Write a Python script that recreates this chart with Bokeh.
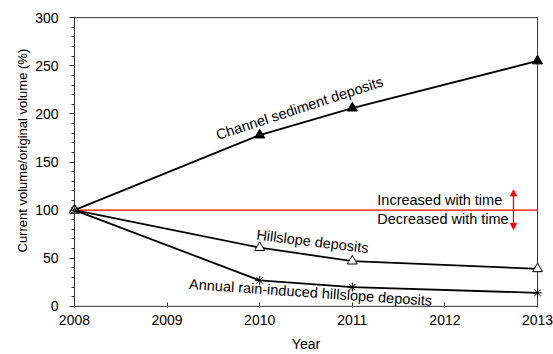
from bokeh.plotting import figure
from bokeh.models import (Label, Arrow, NormalHead, SingleIntervalTicker, FixedTicker, Range1d,
                          LinearAxis, Title)
from bokeh.embed import file_html
from bokeh.resources import INLINE
import math

years_channel = [2008, 2010, 2011, 2013]
channel = [100, 178, 206, 255]
years_hill = [2008, 2010, 2011, 2013]
hillslope = [100, 61, 47, 39]
years_annual = [2008, 2010, 2011, 2013]
annual = [100, 27, 20, 14]
ref_x = [2008, 2013]
ref_y = [100, 100]
x_ticks = [2008, 2009, 2010, 2011, 2012, 2013]
x_min, x_max = 2008, 2013
y_min, y_max = 0, 300

FONT = "Liberation Sans"
PAD = 0.075
PY = 1.2
AX = "#333333"

p = figure(width=553, height=354, output_backend="svg", toolbar_location=None,
           x_range=Range1d(x_min - PAD, x_max + PAD), y_range=Range1d(y_min - PY, y_max + PY),
           min_border_left=67, min_border_right=9, min_border_top=16, min_border_bottom=47)
p.grid.visible = False
p.outline_line_color = None
p.background_fill_color = "white"
p.border_fill_color = "white"

# x axis (labels + inward ticks)
p.xaxis.ticker = FixedTicker(ticks=x_ticks)
p.xaxis.major_tick_in = 5
p.xaxis.major_tick_out = 0
p.xaxis.major_tick_line_color = AX
p.xaxis.minor_tick_line_color = None
p.xaxis.axis_line_color = None

# y axis at frame edge: labels only
p.yaxis.ticker = SingleIntervalTicker(interval=50)
p.yaxis.major_tick_line_color = None
p.yaxis.minor_tick_line_color = None
p.yaxis.axis_line_color = None
p.yaxis.major_tick_in = 0
p.yaxis.major_tick_out = 0

for ax in (p.xaxis, p.yaxis):
    ax.major_label_text_font = FONT
    ax.major_label_text_font_size = "14px"
    ax.major_label_text_color = "black"
    ax.axis_label_text_font = FONT
    ax.axis_label_text_font_size = "14px"
    ax.axis_label_text_font_style = "normal"
    ax.axis_label_text_color = "black"
p.xaxis.axis_label = "Year"
p.xaxis.major_label_standoff = 7
p.yaxis.major_label_standoff = 5
p.xaxis.axis_label_standoff = 8

# y axis title in the left panel, shifted upwards as in the reference
p.add_layout(Title(text="Current volume/original volume (%)", align="left", offset=55,
                   text_font=FONT, text_font_size="13px", text_font_style="normal",
                   text_color="black", standoff=6), "left")

# y axis line and ticks exactly at 2008 (ticks pointing left)
yticks_axis = LinearAxis(fixed_location=x_min,
                         ticker=SingleIntervalTicker(interval=50, num_minor_ticks=5),
                         major_tick_in=5, major_tick_out=0,
                         minor_tick_in=3, minor_tick_out=0,
                         major_tick_line_color=AX, minor_tick_line_color=AX,
                         axis_line_color=AX,
                         major_label_text_font_size="0px", major_label_standoff=0,
                         major_label_text_color=None)
p.add_layout(yticks_axis, "right")

# frame (bottom, top, right)
p.line([x_min, x_max], [y_min, y_min], line_color=AX, line_width=1)
p.line([x_min, x_max], [y_max, y_max], line_color=AX, line_width=1)
p.line([x_max, x_max], [y_min, y_max], line_color=AX, line_width=1)

# reference line
p.line(ref_x, ref_y, line_color="red", line_width=1.2)

# series
p.line(years_channel, channel, line_color="black", line_width=1.8)
p.scatter(years_channel, channel, marker="triangle", size=10, fill_color="black", line_color="black")
p.line(years_hill, hillslope, line_color="black", line_width=1.8)
p.scatter(years_hill, hillslope, marker="triangle", size=10, fill_color="white", line_color="black")
p.line(years_annual, annual, line_color="black", line_width=1.8)
p.scatter(years_annual, annual, marker="asterisk", size=9, line_color="black")

def lab(x, y, t, ang=0, align="center"):
    p.add_layout(Label(x=x, y=y, text=t, angle=math.radians(ang), text_align=align,
                       text_baseline="middle", text_font=FONT, text_font_size="14.5px",
                       text_color="black"))

lab(2010.43, 206, "Channel sediment deposits", 18)
lab(2010.57, 67.5, "Hillslope deposits", -7)
lab(2010.55, 14.5, "Annual rain-induced hillslope deposits", -4)
lab(2011.27, 110, "Increased with time", 0, "left")
lab(2011.27, 90.5, "Decreased with time", 0, "left")

p.add_layout(Arrow(x_start=2012.74, y_start=100, x_end=2012.74, y_end=121,
                   line_color="red", line_width=1.3,
                   end=NormalHead(size=6, fill_color="red", line_color="red")))
p.add_layout(Arrow(x_start=2012.74, y_start=100, x_end=2012.74, y_end=80,
                   line_color="red", line_width=1.3,
                   end=NormalHead(size=6, fill_color="red", line_color="red")))

open("out.html", "w").write(file_html(p, INLINE))
